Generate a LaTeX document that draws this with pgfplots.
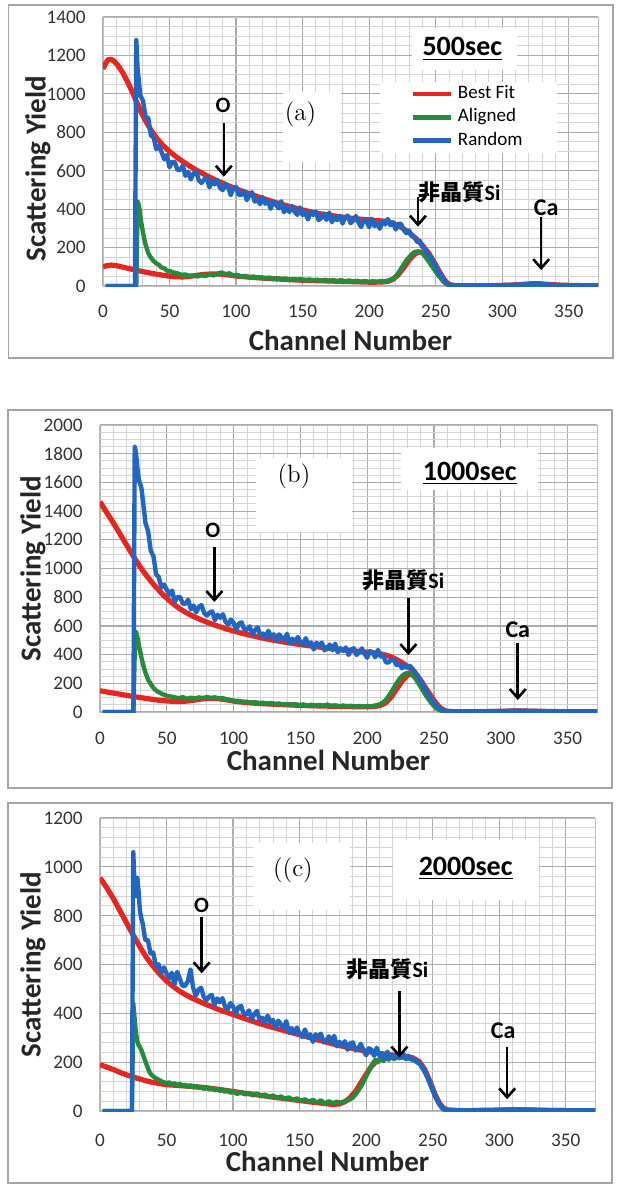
\documentclass[border=0pt]{standalone}
\usepackage{fontspec}
\setmainfont{Carlito}
\newfontfamily\cjk{Noto Sans CJK JP}
\usepackage{pgfplots}
\pgfplotsset{compat=1.18}
\usetikzlibrary{arrows.meta}
\definecolor{cred}{RGB}{232,38,32}
\definecolor{cgreen}{RGB}{38,140,60}
\definecolor{cblue}{RGB}{34,102,196}
\definecolor{cframe}{RGB}{165,165,165}
\newcommand\tickfont{\fontsize{9.6}{10}\selectfont}
\newcommand\labfont{\bfseries\fontsize{14.5}{16}\selectfont}
\tikzset{
 redl/.style={cred, line width=2.6pt, line join=round},
 greenl/.style={cgreen, line width=2.2pt, line join=round},
 bluel/.style={cblue, line width=2.2pt, line join=round},
 arr/.style={black, line width=1.3pt, -{Straight Barb[length=4.5pt,width=8pt]}},
 ann/.style={font=\bfseries\fontsize{11}{12}\selectfont},
 annb/.style={font=\bfseries\fontsize{12}{13}\selectfont},
 big/.style={font=\bfseries\fontsize{14}{16}\selectfont},
 pan/.style={font=\fontfamily{lmr}\selectfont\fontsize{12.5}{14}\selectfont},
}
\pgfplotsset{
 rbs/.style={
  scale only axis, xmin=0, xmax=372, ymin=0,
  xtick={0,50,...,350},
  minor x tick num=4,
  grid=both,
  major grid style={draw=black!33, line width=0.6pt},
  minor grid style={draw=black!17, line width=0.45pt},
  axis line style={draw=black!25, line width=0.5pt},
  major tick length=0pt, minor tick length=0pt,
  /pgf/number format/assume math mode=true,
  /pgf/number format/1000 sep={},
  legend image code/.code={\draw[#1, line width=2.4pt] (0pt,0pt) -- (19pt,0pt);},
 },
}
\begin{document}
\begin{tikzpicture}
\useasboundingbox (0,0) rectangle (310pt,-592pt);
% ---------------- panel (a) ----------------
\begin{axis}[rbs, at={(51.5pt,-8.5pt)}, anchor=north west,
  width=247.5pt, height=134.5pt, ymax=1400, ytick={0,200,...,1400}, minor y tick num=3,
  xticklabel style={font=\tickfont, text=black!80, anchor=center, inner sep=0pt, yshift=-12.8pt},
  yticklabel style={font=\tickfont, text=black!80, anchor=east, inner sep=0pt, xshift=-8.5pt},
  xlabel={Channel Number}, ylabel={Scattering Yield},
  every axis x label/.style={font=\labfont, text=black!85, at={(axis description cs:0.5,0)}, anchor=center, yshift=-27pt},
  every axis y label/.style={font=\labfont, text=black!85, at={(axis description cs:0,0.5)}, xshift=-32.5pt, yshift=-8.5pt, rotate=90, anchor=center},
  legend style={at={(axis cs:231,1062)}, anchor=north west, draw=none, fill=none,
    font=\fontsize{9.5}{11}\selectfont, row sep=0pt, column sep=1pt, inner sep=0pt,
    cells={anchor=west}, nodes={inner sep=1.2pt, text height=7pt, text depth=2.2pt}},
  legend entries={Best Fit, Aligned, Random}]
\fill[white] (axis cs:135.4,1011) rectangle (axis cs:179.2,647);
\fill[white] (axis cs:232,1342) rectangle (axis cs:311,1124);
\fill[white] (axis cs:208,1064) rectangle (axis cs:341,693);
\addplot[redl] coordinates {(0,1130) (2,1160) (4,1178) (6,1180) (8,1172) (10,1158) (12,1140) (15,1108) (18,1068) (20,1040) (22,1010) (25,962) (28,915) (30,885) (33,848) (36,812) (40,772) (45,732) (50,700) (55,672) (60,648) (65,625) (70,604) (75,585) (80,567) (85,550) (90,535) (95,520) (100,506) (110,480) (120,456) (130,434) (140,414) (150,396) (160,380) (170,368) (180,358) (190,350) (200,344) (205,341) (210,338) (215,333) (220,320) (225,302) (230,278) (235,248) (240,212) (245,168) (250,110) (253,72) (256,38) (258,20) (260,9) (263,3) (270,1) (290,2) (305,4) (315,8) (322,12) (328,12) (335,8) (345,4) (360,2) (372,1)};
\addplot[redl, forget plot] coordinates {(0,100) (3,106) (6,109) (9,107) (12,103) (15,98) (20,90) (25,82) (30,75) (35,68) (40,62) (45,56) (50,51) (55,48) (60,47) (65,50) (70,55) (75,60) (80,62) (85,63) (90,61) (95,57) (100,52) (110,46) (120,41) (130,37) (140,33) (150,30) (160,28) (170,26) (180,24) (190,22) (200,20) (205,20) (210,21) (214,24) (218,35) (222,60) (226,95) (230,135) (234,165) (237,177) (240,175) (243,158) (246,132) (249,100) (252,66) (255,35) (258,14) (261,4) (265,1) (300,2) (320,5) (330,5) (345,2) (372,1)};
\addplot[greenl] coordinates {(2,0) (25,0) (26,440) (27,420) (28,365) (29,320) (30,280) (31,245) (32,215) (33,195) (34,172) (35,158) (36,148) (38,130) (40,118) (42,110) (44,96) (46,92) (48,80) (50,78) (53,70) (56,66) (59,58) (62,60) (65,52) (68,55) (71,50) (74,56) (77,52) (80,60) (83,55) (86,63) (89,70) (92,62) (95,66) (98,54) (101,58) (104,48) (107,53) (110,44) (113,49) (116,42) (119,46) (122,38) (125,44) (128,36) (131,41) (134,35) (137,39) (140,31) (143,37) (146,32) (149,36) (152,29) (155,34) (158,28) (161,33) (164,27) (167,32) (170,26) (173,31) (176,25) (179,30) (182,24) (185,29) (188,22) (191,27) (194,21) (197,26) (200,20) (203,25) (206,21) (209,26) (212,24) (215,30) (218,38) (220,50) (222,68) (224,90) (226,112) (228,133) (230,150) (232,165) (234,176) (236,180) (238,178) (240,170) (242,155) (244,135) (246,115) (248,95) (250,75) (252,55) (254,38) (256,22) (258,10) (260,4) (264,2) (280,2) (300,3) (320,6) (330,6) (345,3) (372,2)};
\addplot[bluel] coordinates {(2,0) (24,0) (25,1280) (26,1132) (28,992) (30,965) (32,879) (34,875) (36,783) (38,774) (40,712) (42,730) (44,697) (46,660) (48,682) (50,618) (52,647) (54,644) (56,604) (58,604) (60,627) (62,573) (64,595) (66,555) (68,586) (70,596) (72,550) (74,536) (76,554) (78,564) (80,513) (82,547) (84,529) (86,552) (88,510) (90,499) (92,531) (94,513) (96,473) (98,509) (100,516) (102,475) (104,474) (106,494) (108,447) (110,472) (112,488) (114,439) (116,451) (118,426) (120,463) (122,428) (124,442) (126,402) (128,440) (130,423) (132,404) (134,441) (136,384) (138,410) (140,385) (142,417) (144,387) (146,370) (148,409) (150,369) (152,385) (154,346) (156,385) (158,370) (160,387) (162,343) (164,354) (166,377) (168,344) (170,382) (172,332) (174,357) (176,343) (178,366) (180,325) (182,359) (184,366) (186,327) (188,340) (190,364) (192,331) (194,307) (196,344) (198,337) (200,306) (202,350) (204,312) (206,325) (208,298) (210,337) (212,320) (214,349) (216,316) (218,332) (220,294) (222,324) (224,323) (226,291) (228,275) (230,289) (232,261) (234,256) (236,230) (238,236) (240,204) (242,193) (244,158) (246,156) (248,123) (250,110) (252,69) (254,60) (256,31) (258,15) (260,6) (262,4) (270,3) (280,2) (290,3) (300,4) (310,6) (320,9) (325,11) (330,9) (340,5) (350,3) (360,2) (372,2)};
\node[pan] at (axis cs:148.5,895) {(a)};
\node[big] at (axis cs:270,1234) {\underline{500sec}};
\node[ann] at (axis cs:90.3,942) {O};
\draw[arr] (axis cs:90.8,850) -- (axis cs:90.8,569);
\node[ann] at (axis cs:268,489) {{\cjk\bfseries 非晶質}Si};
\draw[arr] (axis cs:236.7,462) -- (axis cs:236.7,309);
\node[annb] at (axis cs:333,409) {Ca};
\draw[arr] (axis cs:329.3,361) -- (axis cs:329.3,83);
\end{axis}
% ---------------- panel (b) ----------------
\begin{axis}[rbs, at={(50pt,-212.5pt)}, anchor=north west,
  width=248.5pt, height=143.5pt, ymax=2000, ytick={0,200,...,2000}, minor y tick num=3,
  xticklabel style={font=\tickfont, text=black!80, anchor=center, inner sep=0pt, yshift=-13pt},
  yticklabel style={font=\tickfont, text=black!80, anchor=east, inner sep=0pt, xshift=-8.5pt},
  xlabel={Channel Number}, ylabel={Scattering Yield},
  every axis x label/.style={font=\labfont, text=black!85, at={(axis description cs:0.5,0)}, anchor=center, xshift=-10pt, yshift=-24pt},
  every axis y label/.style={font=\labfont, text=black!85, at={(axis description cs:0,0.5)}, xshift=-33.5pt, rotate=90, anchor=center}]
\fill[white] (axis cs:116.7,1770) rectangle (axis cs:188.5,1254);
\fill[white] (axis cs:225.6,1840) rectangle (axis cs:327.6,1547);
\addplot[redl] coordinates {(0,1465) (5,1390) (10,1318) (15,1240) (20,1162) (25,1085) (30,1012) (35,948) (40,890) (45,838) (50,792) (55,752) (60,718) (65,690) (70,666) (75,645) (80,626) (85,609) (90,593) (95,578) (100,564) (110,540) (120,518) (130,500) (140,484) (150,470) (160,457) (170,446) (180,436) (190,426) (200,417) (205,412) (210,405) (215,394) (220,375) (225,350) (230,320) (235,284) (240,222) (245,150) (250,80) (253,45) (256,20) (259,6) (263,2) (280,1) (300,4) (310,7) (318,7) (330,4) (350,2) (372,1)};
\addplot[redl] coordinates {(0,148) (5,140) (10,132) (15,124) (20,116) (25,108) (30,101) (35,94) (40,87) (45,81) (50,77) (55,74) (60,73) (65,76) (70,82) (75,89) (80,94) (85,95) (90,91) (95,84) (100,76) (105,70) (110,65) (120,59) (130,54) (140,50) (150,46) (160,43) (170,41) (180,39) (190,37) (200,36) (205,38) (210,46) (214,65) (218,105) (222,160) (226,215) (230,255) (233,265) (236,250) (240,200) (244,135) (248,80) (252,38) (256,12) (260,3) (270,1) (310,5) (330,3) (372,1)};
\addplot[greenl] coordinates {(2,0) (25,0) (26,420) (27,560) (28,520) (29,470) (30,425) (31,380) (32,340) (33,305) (34,275) (35,250) (36,225) (38,195) (40,168) (42,150) (44,138) (46,128) (48,120) (50,112) (53,108) (56,102) (59,96) (62,104) (65,92) (68,100) (71,94) (74,102) (77,97) (80,104) (83,98) (86,102) (89,94) (92,97) (95,86) (98,84) (101,76) (104,78) (107,70) (110,72) (113,64) (116,68) (119,62) (122,65) (125,58) (128,62) (131,55) (134,59) (137,52) (140,56) (143,50) (146,54) (149,48) (152,52) (155,46) (158,50) (161,45) (164,49) (167,43) (170,52) (173,42) (176,46) (179,40) (182,45) (185,39) (188,43) (191,37) (194,42) (197,38) (200,41) (203,40) (206,45) (209,52) (212,68) (214,85) (216,110) (218,140) (220,170) (222,200) (224,228) (226,250) (228,265) (230,272) (232,270) (234,255) (236,235) (238,205) (240,175) (242,145) (244,115) (246,88) (248,62) (250,42) (252,25) (254,14) (256,8) (260,4) (280,3) (310,6) (330,4) (372,3)};
\addplot[bluel] coordinates {(2,0) (25,0) (26,1850) (27,1800) (28,1700) (29,1620) (30,1590) (31,1560) (32,1484) (34,1318) (36,1260) (38,1123) (40,1086) (42,959) (44,940) (46,866) (48,888) (50,852) (52,817) (54,846) (56,769) (58,801) (60,800) (62,754) (64,755) (66,782) (68,716) (70,742) (72,694) (74,733) (76,745) (78,689) (80,672) (82,692) (84,702) (86,639) (88,678) (90,656) (92,681) (94,628) (96,610) (98,645) (100,621) (102,573) (104,617) (106,625) (108,575) (110,573) (112,597) (114,540) (116,570) (118,590) (120,531) (122,547) (124,519) (126,566) (128,524) (130,542) (132,495) (134,541) (136,522) (138,500) (140,545) (142,478) (144,511) (146,483) (148,523) (150,489) (152,468) (154,515) (156,467) (158,485) (160,436) (162,483) (164,464) (166,484) (168,430) (170,442) (172,470) (174,430) (176,476) (178,416) (180,445) (182,425) (184,450) (186,398) (188,437) (190,444) (192,398) (194,414) (196,443) (198,405) (200,378) (202,424) (204,417) (206,381) (208,433) (210,387) (212,394) (214,346) (216,345) (218,365) (220,362) (222,327) (224,335) (226,305) (228,325) (230,307) (232,322) (234,300) (236,275) (238,245) (240,215) (242,185) (244,150) (246,118) (248,88) (250,65) (252,42) (254,25) (256,14) (258,8) (260,6) (270,5) (290,5) (300,6) (310,9) (320,7) (340,5) (372,5)};
\node[pan] at (axis cs:145.2,1640) {(b)};
\node[big] at (axis cs:276.7,1660) {\underline{1000sec}};
\node[ann] at (axis cs:84.4,1268) {O};
\draw[arr] (axis cs:85.6,1152) -- (axis cs:85.6,767);
\node[ann] at (axis cs:227,920) {{\cjk\bfseries 非晶質}Si};
\draw[arr] (axis cs:230.8,792) -- (axis cs:230.8,397);
\node[annb] at (axis cs:312.7,571) {Ca};
\draw[arr] (axis cs:312.7,478) -- (axis cs:312.7,84);
\end{axis}
% ---------------- panel (c) ----------------
\begin{axis}[rbs, at={(50pt,-409pt)}, anchor=north west,
  width=247.5pt, height=146.5pt, ymax=1200, ytick={0,200,...,1200}, minor y tick num=4,
  xticklabel style={font=\tickfont, text=black!80, anchor=center, inner sep=0pt, yshift=-14.5pt},
  yticklabel style={font=\tickfont, text=black!80, anchor=east, inner sep=0pt, xshift=-8.5pt},
  xlabel={Channel Number}, ylabel={Scattering Yield},
  every axis x label/.style={font=\labfont, text=black!85, at={(axis description cs:0.5,0)}, anchor=center, xshift=-10pt, yshift=-25.3pt},
  every axis y label/.style={font=\labfont, text=black!85, at={(axis description cs:0,0.5)}, xshift=-33.5pt, rotate=90, anchor=center}]
\fill[white] (axis cs:115,1096) rectangle (axis cs:188,823);
\fill[white] (axis cs:220,1110) rectangle (axis cs:330,864);
\addplot[redl] coordinates {(0,955) (5,915) (10,870) (15,820) (20,770) (25,720) (30,672) (35,628) (40,592) (45,560) (50,532) (55,510) (60,490) (65,474) (70,460) (80,436) (90,414) (100,395) (110,376) (120,358) (130,342) (140,327) (150,312) (160,297) (170,282) (180,268) (190,256) (200,245) (210,236) (220,229) (230,223) (235,218) (240,202) (244,170) (248,120) (252,65) (255,32) (258,12) (261,4) (270,1) (300,3) (310,6) (320,4) (340,2) (372,1)};
\addplot[redl] coordinates {(0,190) (5,180) (10,170) (15,158) (20,148) (25,139) (30,131) (35,123) (40,117) (45,112) (50,108) (60,104) (70,100) (80,95) (90,88) (100,80) (110,72) (120,65) (130,57) (140,50) (150,43) (160,36) (170,30) (175,27) (180,29) (184,38) (188,55) (192,80) (196,115) (200,150) (204,183) (208,205) (212,215) (216,220) (222,222) (230,221) (235,214) (240,198) (244,168) (248,118) (252,63) (255,30) (258,10) (262,3) (280,1) (310,4) (340,2) (372,1)};
\addplot[greenl] coordinates {(2,0) (24,0) (25,440) (26,380) (27,320) (28,285) (29,270) (30,262) (31,250) (32,236) (33,220) (34,205) (35,190) (36,175) (37,162) (38,152) (40,142) (42,134) (44,128) (46,122) (48,118) (50,112) (52,118) (54,108) (56,114) (58,104) (60,112) (62,102) (64,108) (66,98) (68,106) (70,96) (72,104) (74,94) (76,100) (78,90) (80,98) (82,88) (84,94) (86,84) (88,92) (90,82) (92,88) (94,78) (96,86) (98,74) (100,82) (103,70) (106,78) (109,68) (112,74) (115,64) (118,72) (121,60) (124,68) (127,56) (130,64) (133,52) (136,60) (139,48) (142,56) (145,44) (148,52) (151,42) (154,48) (157,38) (160,46) (163,34) (166,44) (169,30) (172,40) (175,32) (178,38) (181,34) (184,40) (187,45) (190,55) (193,75) (196,100) (199,130) (202,165) (205,195) (207,210) (209,200) (211,218) (213,205) (215,222) (217,210) (219,225) (221,212) (223,222) (225,215) (227,224) (229,216) (231,220) (233,214) (235,210) (237,205) (239,198) (241,188) (243,170) (245,150) (247,128) (249,102) (251,75) (253,50) (255,30) (257,14) (259,6) (262,3) (280,3) (300,4) (320,5) (340,3) (372,3)};
\addplot[bluel] coordinates {(2,0) (24,0) (25,1060) (26,920) (27,880) (28,955) (29,900) (30,820) (31,790) (32,770) (34,701) (36,700) (38,645) (40,649) (42,592) (44,601) (46,566) (48,588) (50,564) (52,543) (54,566) (56,518) (58,570) (60,542) (62,512) (64,513) (66,532) (68,580) (70,504) (72,472) (74,497) (76,505) (78,467) (80,454) (82,469) (84,476) (86,434) (88,461) (90,446) (92,462) (94,427) (96,416) (98,442) (100,428) (102,397) (104,425) (106,431) (108,397) (110,395) (112,412) (114,376) (116,397) (118,410) (120,372) (122,382) (124,362) (126,391) (128,363) (130,373) (132,340) (134,370) (136,355) (138,339) (140,368) (142,321) (144,340) (146,318) (148,342) (150,316) (152,303) (154,334) (156,302) (158,314) (160,283) (162,314) (164,303) (166,317) (168,281) (170,289) (172,306) (174,279) (176,308) (178,265) (180,283) (182,270) (184,286) (186,251) (188,277) (190,281) (192,248) (194,257) (196,275) (198,248) (200,228) (202,257) (204,251) (206,226) (208,259) (210,226) (212,235) (214,213) (216,243) (218,216) (220,230) (222,217) (224,235) (226,218) (228,234) (230,212) (232,226) (234,210) (236,216) (238,200) (240,195) (242,182) (244,162) (246,140) (248,112) (250,85) (252,60) (254,38) (256,20) (258,8) (260,4) (270,3) (300,4) (310,6) (320,5) (340,3) (372,3)};
\node[pan] at (axis cs:145,987) {((c)};
\node[big] at (axis cs:274.8,994) {\underline{2000sec}};
\node[ann] at (axis cs:76.4,844) {O};
\draw[arr] (axis cs:76.4,796) -- (axis cs:76.4,564);
\node[ann] at (axis cs:216,581) {{\cjk\bfseries 非晶質}Si};
\draw[arr] (axis cs:225,490) -- (axis cs:225,219);
\node[annb] at (axis cs:303,328) {Ca};
\draw[arr] (axis cs:306,262) -- (axis cs:306,48);
\end{axis}
% frames
\draw[cframe, line width=0.6pt] (4.3pt,-2.5pt) rectangle (306.5pt,-179pt);
\draw[cframe, line width=0.6pt] (4pt,-205pt) rectangle (306pt,-394pt);
\draw[cframe, line width=0.6pt] (4pt,-401.5pt) rectangle (306pt,-591.5pt);
\end{tikzpicture}
\end{document}
